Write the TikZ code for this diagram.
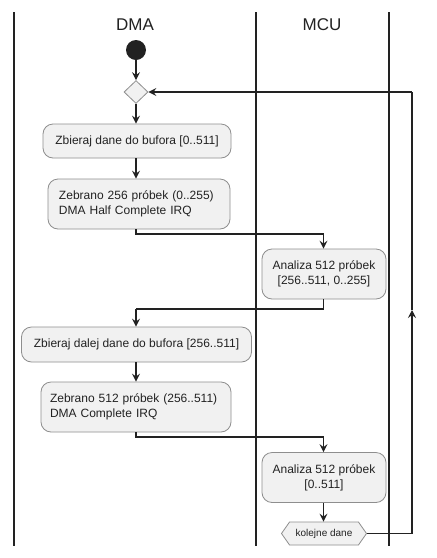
\documentclass[tikz,border=0pt]{standalone}
\usepackage{fontspec}
\setmainfont{Liberation Sans}
\usetikzlibrary{arrows.meta,shapes.geometric,shapes.symbols,calc}
\definecolor{boxfill}{HTML}{F1F1F1}
\definecolor{boxline}{HTML}{8E8E8E}
\definecolor{ink}{HTML}{222222}
\tikzset{
  lane/.style={draw=ink, line width=1.8pt},
  actbox/.style={draw=boxline, fill=boxfill, rounded corners=10pt, line width=0.8pt,
    font=\fontsize{12}{15}\selectfont, text=ink, inner sep=0pt},
  arr/.style={draw=ink, line width=1.1pt, -{Stealth[length=8pt,width=8pt,inset=3pt]}},
  flow/.style={draw=ink, line width=1.1pt},
  hdr/.style={font=\fontsize{17}{20}\selectfont, text=ink}
}
\begin{document}
\begin{tikzpicture}[x=1pt,y=-1pt]
\useasboundingbox[fill=white] (0,0) rectangle (437,558);
% swimlanes
\draw[lane] (14,12) -- (14,546);
\draw[lane] (256,12) -- (256,546);
\draw[lane] (389,12) -- (389,546);
\node[hdr] (hdma) at (135,25) {DMA};
\node[hdr] (hmcu) at (322,25) {MCU};
% start and merge
\node[circle, fill=ink, minimum size=20pt, inner sep=0pt] (start) at (136,50) {};
\node[diamond, draw=boxline, fill=boxfill, line width=0.8pt, minimum width=24pt, minimum height=23pt, inner sep=0pt, aspect=1] (merge) at (136,92) {};
% activities
\node[actbox, minimum width=188pt, minimum height=34pt] (b1) at (137,141) {Zbieraj dane do bufora [0..511]};
\node[actbox, minimum height=50pt, text width=160pt, inner xsep=11pt, align=left] (b2) at (139,204) {Zebrano 256 próbek (0..255)\\DMA Half Complete IRQ};
\node[actbox, minimum width=124pt, minimum height=50pt, align=center] (b3) at (324,274) {Analiza 512 próbek\\\relax[256..511, 0..255]};
\node[actbox, minimum width=230pt, minimum height=35pt] (b4) at (136.5,344.5) {Zbieraj dalej dane do bufora [256..511]};
\node[actbox, minimum height=50pt, text width=172pt, inner xsep=9pt, align=left] (b5) at (136,407) {Zebrano 512 próbek (256..511)\\DMA Complete IRQ};
\node[actbox, minimum width=124pt, minimum height=50pt, align=center] (b6) at (324,477.5) {Analiza 512 próbek\\\relax[0..511]};
\node[signal, signal to=west and east, signal pointer angle=110, draw=boxline, fill=boxfill, line width=0.8pt,
  minimum width=85pt, minimum height=23pt, inner sep=0pt, font=\fontsize{10}{12}\selectfont, text=ink] (hex) at (324,533.5) {kolejne dane};
% coordinates for routing
\coordinate (c1) at (136,234);
\coordinate (c2) at (323.5,234);
\coordinate (c3) at (323.5,309);
\coordinate (c4) at (136,309);
\coordinate (c5) at (136,437);
\coordinate (c6) at (323.5,437);
\coordinate (r1) at (412,533.5);
\coordinate (r2) at (412,92);
\coordinate (rm) at (412,310);
% connectors
\draw[arr] (start) -- (merge);
\draw[arr] (merge) -- (merge |- b1.north);
\draw[arr] (merge |- b1.south) -- (merge |- b2.north);
\draw[flow] (merge |- b2.south) -- (c1) -- (c2);
\draw[arr] (c2) -- (c2 |- b3.north);
\draw[flow] (c2 |- b3.south) -- (c3) -- (c4);
\draw[arr] (c4) -- (c4 |- b4.north);
\draw[arr] (c4 |- b4.south) -- (c4 |- b5.north);
\draw[flow] (c4 |- b5.south) -- (c5) -- (c6);
\draw[arr] (c6) -- (c6 |- b6.north);
\draw[arr] (c6 |- b6.south) -- (c6 |- hex.north);
\draw[flow] (hex.east) -- (r1);
\draw[arr] (r1) -- (rm);
\draw[flow] (rm) -- (r2);
\draw[arr] (r2) -- (merge.east);
\end{tikzpicture}
\end{document}
